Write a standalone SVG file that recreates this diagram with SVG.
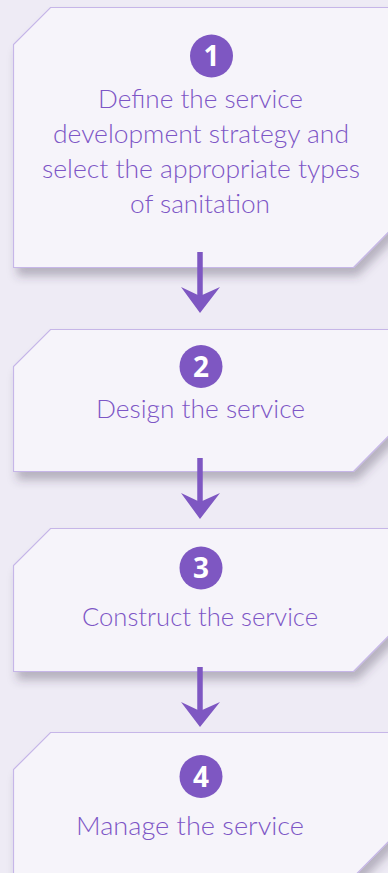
<svg xmlns="http://www.w3.org/2000/svg" width="388" height="873" viewBox="0 0 388 873">
  <defs>
    <filter id="sh" x="-10%" y="-10%" width="130%" height="140%">
      <feDropShadow dx="4" dy="8" stdDeviation="5" flood-color="#3a3350" flood-opacity="0.32"/>
    </filter>
    <style>
      .box { fill: #f6f4fa; stroke: #c6b6e8; stroke-width: 1.2; filter: url(#sh); }
      .lbl { font-family: "Lato", "Liberation Sans", sans-serif; font-weight: 300; font-size: 26px; fill: #7d56c6; text-anchor: middle; }
      .num { fill: #7e57c2; }
      .dig { font-family: "Open Sans", "Liberation Sans", sans-serif; font-weight: bold; font-size: 28px; fill: #ffffff; text-anchor: middle; }
      .shaft { stroke: #7e57c2; stroke-width: 5.5; fill: none; }
      .head { fill: #7e57c2; }
    </style>
  </defs>
  <rect width="388" height="873" fill="#eeebf5"/>

  <g id="node1">
    <path class="box" d="M50.5,7.5 H400 V220.5 L353.5,267.5 H13.5 V44.5 Z"/>
    <circle class="num" cx="211.5" cy="56" r="21.5"/>
    <text class="dig" x="211.5" y="66">1</text>
    <text class="lbl" x="200.5" y="108" textLength="205" lengthAdjust="spacingAndGlyphs">Define the service</text>
    <text class="lbl" x="201" y="143" textLength="296" lengthAdjust="spacingAndGlyphs">development strategy and</text>
    <text class="lbl" x="201" y="178" textLength="318" lengthAdjust="spacingAndGlyphs">select the appropriate types</text>
    <text class="lbl" x="200" y="213" textLength="140" lengthAdjust="spacingAndGlyphs">of sanitation</text>
  </g>

  <g id="node2">
    <path class="box" d="M50.5,329.5 H400 V424.5 L353.5,471.5 H13.5 V366.5 Z"/>
    <circle class="num" cx="201" cy="366.5" r="21.5"/>
    <text class="dig" x="201" y="376.5">2</text>
    <text class="lbl" x="200.5" y="418" textLength="209" lengthAdjust="spacingAndGlyphs">Design the service</text>
  </g>

  <g id="node3">
    <path class="box" d="M50.5,528.5 H400 V624.5 L353.5,671.5 H13.5 V565.5 Z"/>
    <circle class="num" cx="201" cy="568" r="21.5"/>
    <text class="dig" x="201" y="578">3</text>
    <text class="lbl" x="200" y="626" textLength="236" lengthAdjust="spacingAndGlyphs">Construct the service</text>
  </g>

  <g id="node4">
    <path class="box" d="M50.5,732.5 H400 V830 L353.5,877 H13.5 V769.5 Z"/>
    <circle class="num" cx="201" cy="776.5" r="21.5"/>
    <text class="dig" x="201" y="786.5">4</text>
    <text class="lbl" x="190" y="835" textLength="228" lengthAdjust="spacingAndGlyphs">Manage the service</text>
  </g>

  <g id="connectors">
    <line class="shaft" x1="200" y1="252" x2="200" y2="298"/>
    <path class="head" d="M181,287 L200,296 L220,287 L200,313 Z"/>
    <line class="shaft" x1="200" y1="458" x2="200" y2="504"/>
    <path class="head" d="M181,493 L200,502 L220,493 L200,519 Z"/>
    <line class="shaft" x1="200" y1="667" x2="200" y2="712"/>
    <path class="head" d="M181,702 L200,711 L220,702 L200,727 Z"/>
  </g>
</svg>
